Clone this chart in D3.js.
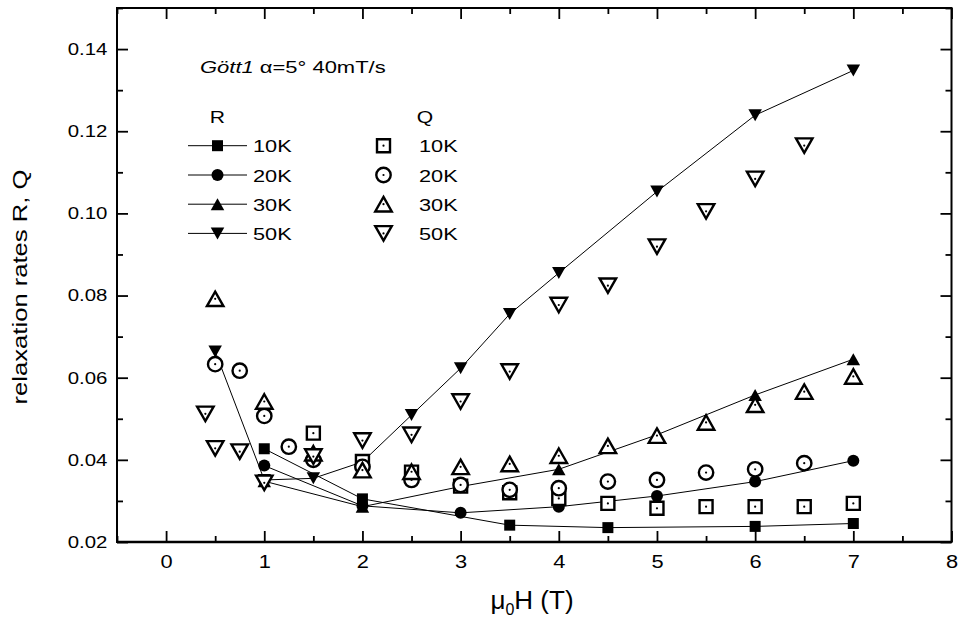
<!DOCTYPE html>
<html>
<head>
<meta charset="utf-8">
<script src="https://cdn.jsdelivr.net/npm/d3@7"></script>
<style>
  body { margin: 0; background: #fff; }
  text { font-family: "Liberation Sans", Arial, Helvetica, sans-serif; fill: #000; }
</style>
</head>
<body>
<svg id="chart" width="959" height="623"></svg>
<script>
// Relaxation rates vs applied field, sample Gött1, alpha = 5 deg, sweep 40 mT/s

// R (filled symbols, joined by lines)
const r10Field = [1, 2, 3.5, 4.5, 6, 7];
const r10Rate  = [0.0427, 0.0305, 0.0241, 0.0235, 0.0238, 0.0245];
const r20Field = [1, 2, 3, 4, 5, 6, 7];
const r20Rate  = [0.0386, 0.0288, 0.0271, 0.0286, 0.0312, 0.0347, 0.0398];
const r30Field = [1, 2, 3, 4, 5, 6, 7];
const r30Rate  = [0.0348, 0.0286, 0.0335, 0.0377, 0.0461, 0.0558, 0.0645];
const r50Field = [0.5, 1, 1.5, 2, 2.5, 3, 3.5, 4, 5, 6, 7];
const r50Rate  = [0.0664, 0.0351, 0.0355, 0.0395, 0.0509, 0.0623, 0.0755, 0.0855, 0.1053, 0.1239, 0.1348];

// Q (open symbols with a centre dot, no lines)
const q10Field = [1.5, 2, 2.5, 3, 3.5, 4, 4.5, 5, 5.5, 6, 6.5, 7];
const q10Rate  = [0.0465, 0.0396, 0.0370, 0.0336, 0.0320, 0.0306, 0.0294, 0.0282, 0.0286, 0.0286, 0.0286, 0.0294];
const q20Field = [0.5, 0.75, 1, 1.25, 1.5, 2, 2.5, 3, 3.5, 4, 4.5, 5, 5.5, 6, 6.5];
const q20Rate  = [0.0633, 0.0617, 0.0507, 0.0432, 0.0400, 0.0383, 0.0351, 0.0339, 0.0327, 0.0331, 0.0347, 0.0351, 0.0369, 0.0377, 0.0392];
const q30Field = [0.5, 1, 1.5, 2, 2.5, 3, 3.5, 4, 4.5, 5, 5.5, 6, 6.5, 7];
const q30Rate  = [0.0792, 0.0542, 0.0416, 0.0375, 0.0371, 0.0383, 0.0390, 0.0410, 0.0434, 0.0459, 0.0491, 0.0534, 0.0566, 0.0603];
const q50Field = [0.4, 0.5, 0.75, 1, 1.5, 2, 2.5, 3, 3.5, 4, 4.5, 5, 5.5, 6, 6.5];
const q50Rate  = [0.0512, 0.0428, 0.0420, 0.0344, 0.0408, 0.0447, 0.0461, 0.0542, 0.0615, 0.0777, 0.0824, 0.0919, 0.1005, 0.1084, 0.1165];

const temperatures = ["10K", "20K", "30K", "50K"];
const shapes = ["square", "circle", "up", "down"];

const xMajorTicks = [0, 1, 2, 3, 4, 5, 6, 7, 8];
const xMinorTicks = [-0.5, 0.5, 1.5, 2.5, 3.5, 4.5, 5.5, 6.5, 7.5];
const yMajorTicks = [0.02, 0.04, 0.06, 0.08, 0.10, 0.12, 0.14];
const yMinorTicks = [0.03, 0.05, 0.07, 0.09, 0.11, 0.13, 0.15];

const rSeries = [
  { field: r10Field, rate: r10Rate },
  { field: r20Field, rate: r20Rate },
  { field: r30Field, rate: r30Rate },
  { field: r50Field, rate: r50Rate }
];
const qSeries = [
  { field: q10Field, rate: q10Rate },
  { field: q20Field, rate: q20Rate },
  { field: q30Field, rate: q30Rate },
  { field: q50Field, rate: q50Rate }
];

const W = 959, H = 623;
const margin = { left: 117, right: 7.5, top: 8, bottom: 81 };
const svg = d3.select("#chart");
const g = svg.append("g").attr("transform", `translate(${margin.left},${margin.top})`);
const iw = W - margin.left - margin.right;
const ih = H - margin.top - margin.bottom;

const x = d3.scaleLinear().domain([-0.5, 8]).range([0, iw]);
const y = d3.scaleLinear().domain([0.02, 0.15]).range([ih, 0]);

// glyphs are drawn wide along the writing direction
const SX_TICK = 1.2;
const SX_TEXT = 1.28;

// symbol geometry
function symbolPath(shape, filled) {
  if (shape === "square") {
    const s = filled ? 11 : 13;
    return `M${-s/2},${-s/2}H${s/2}V${s/2}H${-s/2}Z`;
  }
  if (shape === "circle") {
    const r = filled ? 6 : 7.2;
    return `M${r},0A${r},${r} 0 1,1 ${-r},0A${r},${r} 0 1,1 ${r},0Z`;
  }
  const w = filled ? 13.5 : 16.5, h = filled ? 12 : 14.5;
  if (shape === "up") return `M0,${-h/2}L${w/2},${h/2}L${-w/2},${h/2}Z`;
  return `M0,${h/2}L${w/2},${-h/2}L${-w/2},${-h/2}Z`;
}

function drawFilled(sel, shape, cx, cy) {
  sel.append("path").attr("d", symbolPath(shape, true))
    .attr("transform", `translate(${cx},${cy})`)
    .attr("fill", "#000").attr("stroke", "none");
}
function drawOpen(sel, shape, cx, cy) {
  const grp = sel.append("g").attr("transform", `translate(${cx},${cy})`);
  grp.append("path").attr("d", symbolPath(shape, false))
    .attr("fill", "#fff").attr("stroke", "#000").attr("stroke-width", 2.4)
    .attr("stroke-linejoin", "miter");
  grp.append("circle").attr("r", 1.1).attr("fill", "#000");
}

// axes (ticks pointing inward on all four sides)
const axisStyle = sel => {
  sel.select(".domain").remove();
  sel.selectAll("line").attr("stroke", "#000").attr("stroke-width", 1.8);
};

g.append("g").attr("transform", `translate(0,${ih})`)
  .call(d3.axisBottom(x).tickValues(xMajorTicks).tickSize(-11).tickPadding(13).tickFormat(d3.format("d")))
  .call(axisStyle)
  .call(s => s.selectAll("text").attr("font-size", 18.5).attr("font-family", "Liberation Sans, Arial, sans-serif")
    .attr("transform", "scale(1.18,1)").attr("x", 0));
g.append("g").attr("transform", `translate(0,${ih})`)
  .call(d3.axisBottom(x).tickValues(xMinorTicks).tickSize(-6).tickFormat(""))
  .call(axisStyle);
g.append("g")
  .call(d3.axisTop(x).tickValues(xMajorTicks).tickSize(-11).tickFormat(""))
  .call(axisStyle);
g.append("g")
  .call(d3.axisTop(x).tickValues(xMinorTicks).tickSize(-6).tickFormat(""))
  .call(axisStyle);

g.append("g")
  .call(d3.axisLeft(y).tickValues(yMajorTicks).tickSize(-11).tickPadding(8).tickFormat(d3.format(".2f")))
  .call(axisStyle)
  .call(s => s.selectAll("text").attr("font-size", 17).attr("font-family", "Liberation Sans, Arial, sans-serif")
    .attr("transform", `scale(${SX_TICK},1)`));
g.append("g")
  .call(d3.axisLeft(y).tickValues(yMinorTicks).tickSize(-6).tickFormat(""))
  .call(axisStyle);
g.append("g").attr("transform", `translate(${iw},0)`)
  .call(d3.axisRight(y).tickValues(yMajorTicks).tickSize(-11).tickFormat(""))
  .call(axisStyle);
g.append("g").attr("transform", `translate(${iw},0)`)
  .call(d3.axisRight(y).tickValues(yMinorTicks).tickSize(-6).tickFormat(""))
  .call(axisStyle);

// frame
g.append("rect").attr("width", iw).attr("height", ih)
  .attr("fill", "none").attr("stroke", "#000").attr("stroke-width", 2);
g.append("line").attr("x1", 0).attr("x2", iw).attr("y1", ih).attr("y2", ih)
  .attr("stroke", "#000").attr("stroke-width", 2.6);

// R lines
const line = d3.line().x(d => x(d[0])).y(d => y(d[1]));
rSeries.forEach(s => {
  const pts = s.field.map((f, i) => [f, s.rate[i]]);
  g.append("path").attr("d", line(pts)).attr("fill", "none")
    .attr("stroke", "#000").attr("stroke-width", 1);
});

// R filled symbols
rSeries.forEach((s, k) => {
  s.field.forEach((f, i) => drawFilled(g, shapes[k], x(f), y(s.rate[i])));
});
// Q open symbols, white-filled, drawn on top
qSeries.forEach((s, k) => {
  s.field.forEach((f, i) => drawOpen(g, shapes[k], x(f), y(s.rate[i])));
});

// stretched text helper
function label(sel, str, px, py, size, opts = {}) {
  const t = sel.append("text")
    .attr("transform", `translate(${px},${py}) scale(${opts.sx || SX_TEXT},1)`)
    .attr("font-size", size)
    .attr("text-anchor", opts.anchor || "start");
  if (opts.italic) t.attr("font-style", "italic");
  t.text(str);
  return t;
}

// header
const head = svg.append("text")
  .attr("transform", `translate(200,73.3) scale(1.27,1)`)
  .attr("font-size", 17.3);
head.append("tspan").attr("font-style", "italic").text("Gött1 ");
head.append("tspan").text("α=5° 40mT/s");

// legend: R entries carry line + symbol, Q entries symbol only
const legRows = [145.7, 175, 204.2, 233.4];
label(svg, "R", 217.5, 122.5, 16.5, { anchor: "middle" });
label(svg, "Q", 425, 122.5, 16.5, { anchor: "middle" });
temperatures.forEach((tk, k) => {
  const ry = legRows[k];
  svg.append("line").attr("x1", 188).attr("x2", 247).attr("y1", ry).attr("y2", ry)
    .attr("stroke", "#000").attr("stroke-width", 1);
  drawFilled(svg, shapes[k], 217.5, ry);
  label(svg, tk, 253, ry + 6.6, 17);
  drawOpen(svg, shapes[k], 383.5, ry);
  label(svg, tk, 419, ry + 6.6, 17);
});

// axis titles
svg.append("text")
  .attr("transform", "translate(27,287) rotate(-90) scale(1.25,1)")
  .attr("text-anchor", "middle").attr("font-size", 20.5)
  .text("relaxation rates R, Q");

const xt = svg.append("text")
  .attr("transform", "translate(532,609)")
  .attr("text-anchor", "middle").attr("font-size", 26);
xt.append("tspan").text("μ");
xt.append("tspan").attr("font-size", 16).attr("dy", 6).text("0");
xt.append("tspan").attr("dy", -6).text("H (T)");
</script>
</body>
</html>
